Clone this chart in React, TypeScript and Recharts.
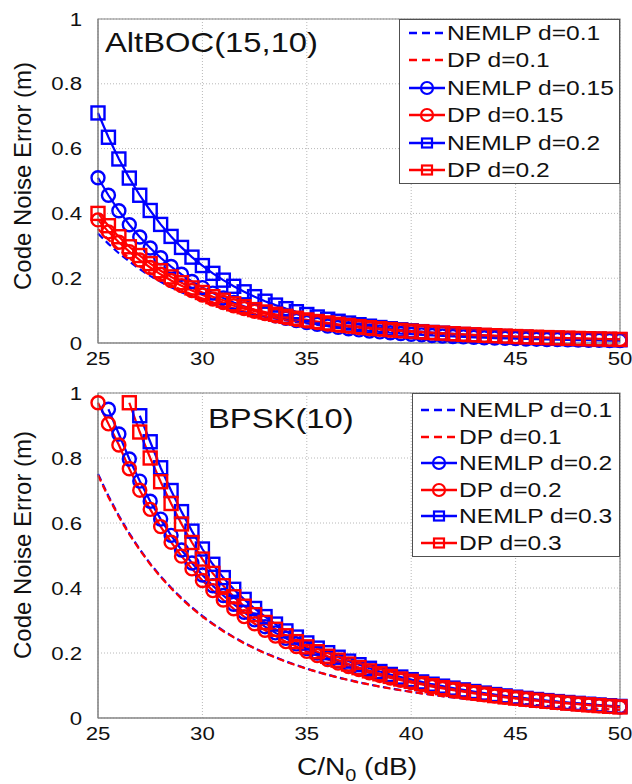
import React from "react";
import { LineChart, Line, XAxis, YAxis, CartesianGrid, ReferenceArea, Legend } from "recharts";

// C/N0 sweep, one marker every 0.5 dB
const cn0Db = [
  25, 25.5, 26, 26.5, 27, 27.5, 28, 28.5, 29, 29.5,
  30, 30.5, 31, 31.5, 32, 32.5, 33, 33.5, 34, 34.5,
  35, 35.5, 36, 36.5, 37, 37.5, 38, 38.5, 39, 39.5,
  40, 40.5, 41, 41.5, 42, 42.5, 43, 43.5, 44, 44.5,
  45, 45.5, 46, 46.5, 47, 47.5, 48, 48.5, 49, 49.5,
  50,
];

const xTicks = [25, 30, 35, 40, 45, 50];
const yTicks = [0, 0.2, 0.4, 0.6, 0.8, 1];

// AltBOC(15,10) panel
const altNemlp01 = [
  0.338, 0.306, 0.277, 0.252, 0.228, 0.207, 0.189, 0.172, 0.157, 0.144,
  0.132, 0.121, 0.111, 0.103, 0.0947, 0.0874, 0.0808, 0.0750, 0.0695, 0.0646,
  0.0602, 0.0560, 0.0523, 0.0489, 0.0456, 0.0426, 0.0399, 0.0374, 0.0351, 0.0329,
  0.0309, 0.0291, 0.0273, 0.0257, 0.0242, 0.0228, 0.0214, 0.0201, 0.0190, 0.0180,
  0.0168, 0.0158, 0.0150, 0.0141, 0.0132, 0.0125, 0.0118, 0.0111, 0.0106, 0.0100,
  0.0094,
];
const altDp01 = [
  0.352, 0.319, 0.289, 0.262, 0.237, 0.216, 0.197, 0.179, 0.164, 0.150,
  0.137, 0.126, 0.116, 0.107, 0.0986, 0.0910, 0.0842, 0.0781, 0.0724, 0.0673,
  0.0627, 0.0583, 0.0545, 0.0509, 0.0475, 0.0444, 0.0416, 0.0390, 0.0366, 0.0343,
  0.0322, 0.0303, 0.0284, 0.0268, 0.0252, 0.0237, 0.0223, 0.0209, 0.0198, 0.0187,
  0.0175, 0.0165, 0.0156, 0.0147, 0.0138, 0.0130, 0.0123, 0.0116, 0.0110, 0.0104,
  0.0098,
];
const altNemlp015 = [
  0.510, 0.456, 0.408, 0.365, 0.327, 0.293, 0.263, 0.236, 0.212, 0.190,
  0.171, 0.154, 0.139, 0.125, 0.113, 0.102, 0.0926, 0.0840, 0.0763, 0.0693,
  0.0631, 0.0576, 0.0526, 0.0481, 0.0441, 0.0405, 0.0372, 0.0343, 0.0317, 0.0292,
  0.0271, 0.0251, 0.0233, 0.0216, 0.0201, 0.0188, 0.0175, 0.0163, 0.0153, 0.0143,
  0.0134, 0.0125, 0.0118, 0.0110, 0.0104, 0.0097, 0.0091, 0.0086, 0.0081, 0.0076,
  0.0072,
];
const altDp015 = [
  0.380, 0.343, 0.311, 0.282, 0.256, 0.233, 0.212, 0.193, 0.177, 0.162,
  0.148, 0.136, 0.125, 0.115, 0.106, 0.0981, 0.0908, 0.0841, 0.0781, 0.0726,
  0.0675, 0.0629, 0.0587, 0.0548, 0.0512, 0.0479, 0.0449, 0.0420, 0.0395, 0.0370,
  0.0347, 0.0326, 0.0306, 0.0288, 0.0271, 0.0255, 0.0240, 0.0226, 0.0213, 0.0201,
  0.0189, 0.0178, 0.0168, 0.0158, 0.0149, 0.0140, 0.0133, 0.0125, 0.0119, 0.0112,
  0.0105,
];
const altNemlp02 = [
  0.710, 0.635, 0.568, 0.509, 0.456, 0.409, 0.366, 0.329, 0.295, 0.265,
  0.239, 0.215, 0.194, 0.175, 0.158, 0.143, 0.129, 0.117, 0.106, 0.0966,
  0.0880, 0.0803, 0.0733, 0.0671, 0.0615, 0.0565, 0.0519, 0.0478, 0.0441, 0.0408,
  0.0377, 0.0350, 0.0324, 0.0302, 0.0281, 0.0261, 0.0244, 0.0228, 0.0213, 0.0199,
  0.0186, 0.0175, 0.0164, 0.0154, 0.0144, 0.0136, 0.0127, 0.0120, 0.0113, 0.0106,
  0.0100,
];
const altDp02 = [
  0.400, 0.362, 0.328, 0.297, 0.270, 0.245, 0.223, 0.204, 0.186, 0.170,
  0.156, 0.143, 0.132, 0.121, 0.112, 0.103, 0.0957, 0.0887, 0.0823, 0.0765,
  0.0712, 0.0663, 0.0619, 0.0578, 0.0540, 0.0505, 0.0473, 0.0443, 0.0416, 0.0390,
  0.0366, 0.0344, 0.0323, 0.0304, 0.0286, 0.0269, 0.0253, 0.0238, 0.0225, 0.0212,
  0.0199, 0.0188, 0.0177, 0.0167, 0.0157, 0.0148, 0.0140, 0.0132, 0.0125, 0.0118,
  0.0111,
];

// BPSK(10) panel (null = above the 1 m top of the axes)
const bpskNemlp01 = [
  0.751, 0.683, 0.622, 0.568, 0.519, 0.475, 0.436, 0.401, 0.369, 0.340,
  0.314, 0.290, 0.269, 0.249, 0.231, 0.215, 0.200, 0.187, 0.174, 0.163,
  0.152, 0.142, 0.133, 0.125, 0.117, 0.110, 0.103, 0.0970, 0.0912, 0.0858,
  0.0807, 0.0760, 0.0715, 0.0674, 0.0634, 0.0598, 0.0563, 0.0531, 0.0501, 0.0472,
  0.0445, 0.0420, 0.0396, 0.0373, 0.0352, 0.0332, 0.0314, 0.0296, 0.0279, 0.0264,
  0.0249,
];
const bpskDp01 = [
  0.747, 0.679, 0.619, 0.565, 0.517, 0.473, 0.434, 0.399, 0.367, 0.338,
  0.312, 0.289, 0.267, 0.248, 0.230, 0.214, 0.199, 0.186, 0.173, 0.162,
  0.151, 0.142, 0.133, 0.124, 0.117, 0.109, 0.103, 0.0965, 0.0907, 0.0854,
  0.0803, 0.0756, 0.0711, 0.0671, 0.0631, 0.0595, 0.0560, 0.0528, 0.0498, 0.0470,
  0.0443, 0.0418, 0.0394, 0.0371, 0.0350, 0.0330, 0.0312, 0.0295, 0.0278, 0.0263,
  0.0248,
];
const bpskNemlp02 = [
  null, 0.950, 0.874, 0.797, 0.729, 0.667, 0.612, 0.562, 0.517, 0.477,
  0.440, 0.407, 0.377, 0.350, 0.325, 0.302, 0.281, 0.262, 0.245, 0.228,
  0.214, 0.200, 0.187, 0.175, 0.165, 0.154, 0.145, 0.136, 0.128, 0.120,
  0.113, 0.107, 0.101, 0.0945, 0.0891, 0.0839, 0.0790, 0.0746, 0.0703, 0.0662,
  0.0625, 0.0590, 0.0555, 0.0524, 0.0495, 0.0467, 0.0440, 0.0415, 0.0392, 0.0370,
  0.0349,
];
const bpskDp02 = [
  0.970, 0.905, 0.840, 0.767, 0.701, 0.642, 0.589, 0.541, 0.498, 0.459,
  0.423, 0.392, 0.363, 0.336, 0.312, 0.290, 0.270, 0.252, 0.235, 0.220,
  0.205, 0.192, 0.180, 0.169, 0.158, 0.149, 0.139, 0.131, 0.123, 0.116,
  0.109, 0.103, 0.0966, 0.0909, 0.0857, 0.0807, 0.0760, 0.0717, 0.0676, 0.0637,
  0.0601, 0.0567, 0.0534, 0.0504, 0.0476, 0.0449, 0.0423, 0.0399, 0.0377, 0.0356,
  0.0336,
];
const bpskNemlp03 = [
  null, null, null, null, 0.930, 0.850, 0.770, 0.700, 0.635, 0.575,
  0.520, 0.473, 0.432, 0.396, 0.365, 0.337, 0.312, 0.289, 0.268, 0.249,
  0.231, 0.215, 0.201, 0.187, 0.175, 0.164, 0.153, 0.143, 0.134, 0.126,
  0.118, 0.111, 0.104, 0.098, 0.092, 0.0865, 0.0815, 0.0767, 0.0722, 0.0680,
  0.0641, 0.0604, 0.0569, 0.0536, 0.0505, 0.0477, 0.0450, 0.0424, 0.0400, 0.0377,
  0.0356,
];
const bpskDp03 = [
  null, null, null, 0.970, 0.880, 0.800, 0.727, 0.660, 0.597, 0.540,
  0.489, 0.445, 0.407, 0.373, 0.344, 0.318, 0.294, 0.273, 0.253, 0.235,
  0.219, 0.204, 0.190, 0.178, 0.166, 0.155, 0.145, 0.136, 0.128, 0.120,
  0.113, 0.106, 0.0994, 0.0934, 0.0879, 0.0827, 0.0778, 0.0733, 0.0690, 0.0650,
  0.0613, 0.0578, 0.0544, 0.0513, 0.0484, 0.0457, 0.0431, 0.0406, 0.0383, 0.0361,
  0.0341,
];

const BLUE = "#0000ff";
const RED = "#ff0000";
const FONT = '"Liberation Sans", Arial, Helvetica, sans-serif';
const STRETCH = 1.17;

type Marker = "none" | "circle" | "square";
interface SeriesDef {
  key: string;
  name: string;
  color: string;
  marker: Marker;
  values: (number | null)[];
}

const altSeries: SeriesDef[] = [
  { key: "nemlp01", name: "NEMLP d=0.1", color: BLUE, marker: "none", values: altNemlp01 },
  { key: "dp01", name: "DP d=0.1", color: RED, marker: "none", values: altDp01 },
  { key: "nemlp015", name: "NEMLP d=0.15", color: BLUE, marker: "circle", values: altNemlp015 },
  { key: "dp015", name: "DP d=0.15", color: RED, marker: "circle", values: altDp015 },
  { key: "nemlp02", name: "NEMLP d=0.2", color: BLUE, marker: "square", values: altNemlp02 },
  { key: "dp02", name: "DP d=0.2", color: RED, marker: "square", values: altDp02 },
];

const bpskSeries: SeriesDef[] = [
  { key: "nemlp01", name: "NEMLP d=0.1", color: BLUE, marker: "none", values: bpskNemlp01 },
  { key: "dp01", name: "DP d=0.1", color: RED, marker: "none", values: bpskDp01 },
  { key: "nemlp02", name: "NEMLP d=0.2", color: BLUE, marker: "circle", values: bpskNemlp02 },
  { key: "dp02", name: "DP d=0.2", color: RED, marker: "circle", values: bpskDp02 },
  { key: "nemlp03", name: "NEMLP d=0.3", color: BLUE, marker: "square", values: bpskNemlp03 },
  { key: "dp03", name: "DP d=0.3", color: RED, marker: "square", values: bpskDp03 },
];

function buildRows(series: SeriesDef[]) {
  return cn0Db.map((x, i) => {
    const row: Record<string, number | null> = { cn0: x };
    series.forEach((s) => {
      row[s.key] = s.values[i];
    });
    return row;
  });
}

function XTick({ x, y, payload, dy }: any) {
  return (
    <g transform={`translate(${x},${y + dy}) scale(${STRETCH},1)`}>
      <text textAnchor="middle" dy="0.35em" fontSize={19} fill="#111">
        {payload.value}
      </text>
    </g>
  );
}

function YTick({ x, y, payload }: any) {
  return (
    <g transform={`translate(${x - 16},${y}) scale(${STRETCH},1)`}>
      <text textAnchor="end" dy="0.35em" fontSize={19} fill="#111">
        {payload.value}
      </text>
    </g>
  );
}

function SquareDot({ cx, cy, stroke }: any) {
  if (cx == null || cy == null || Number.isNaN(cx) || Number.isNaN(cy)) return <g />;
  return <rect x={cx - 6.5} y={cy - 6.5} width={13} height={13} fill="none" stroke={stroke} strokeWidth={2.4} />;
}

function LegendBox({ series, rowTop, rowStep, sampleLeft, textLeft }: any) {
  return (
    <div
      style={{
        position: "relative",
        width: "100%",
        height: "100%",
        boxSizing: "border-box",
        border: "1px solid #505050",
        background: "#fff",
        fontFamily: FONT,
      }}
    >
      {series.map((s: SeriesDef, i: number) => {
        const cy = rowTop + i * rowStep;
        return (
          <React.Fragment key={s.key}>
            <svg style={{ position: "absolute", left: sampleLeft, top: cy - 8 }} width={38} height={16}>
              <line
                x1={1}
                y1={8}
                x2={37}
                y2={8}
                stroke={s.color}
                strokeWidth={2.4}
                strokeDasharray={s.marker === "none" ? "8 5" : undefined}
              />
              {s.marker === "circle" && <circle cx={19} cy={8} r={6} fill="none" stroke={s.color} strokeWidth={2.2} />}
              {s.marker === "square" && (
                <rect x={14} y={3.5} width={10} height={9} fill="none" stroke={s.color} strokeWidth={2.2} />
              )}
            </svg>
            <span
              style={{
                position: "absolute",
                left: textLeft,
                top: cy - 12,
                height: 24,
                lineHeight: "24px",
                fontSize: 21,
                color: "#111",
                whiteSpace: "nowrap",
                transform: `scaleX(${STRETCH})`,
                transformOrigin: "left center",
              }}
            >
              {s.name}
            </span>
          </React.Fragment>
        );
      })}
    </div>
  );
}

interface PanelProps {
  series: SeriesDef[];
  height: number;
  marginTop: number;
  xAxisHeight: number;
  tickGap: number;
  legendBox: { left: number; top: number; width: number; height: number };
  legendRows: { rowTop: number; rowStep: number; sampleLeft: number; textLeft: number };
}

function NoisePanel({ series, height, marginTop, xAxisHeight, tickGap, legendBox, legendRows }: PanelProps) {
  const rows = buildRows(series);
  return (
    <LineChart width={632} height={height} data={rows} margin={{ top: marginTop, right: 12, left: 0, bottom: 0 }}>
      <CartesianGrid stroke="#b8b8b8" strokeDasharray="1 2" />
      <ReferenceArea x1={25} x2={50} y1={0} y2={1} fill="none" stroke="#858585" strokeWidth={1.2} ifOverflow="visible" />
      <XAxis
        dataKey="cn0"
        type="number"
        domain={[25, 50]}
        ticks={xTicks}
        height={xAxisHeight}
        tickSize={0}
        tickMargin={0}
        axisLine={{ stroke: "#858585" }}
        tickLine={false}
        tick={<XTick dy={tickGap} />}
      />
      <YAxis
        type="number"
        domain={[0, 1]}
        ticks={yTicks}
        width={98}
        tickSize={0}
        tickMargin={0}
        axisLine={{ stroke: "#858585" }}
        tickLine={false}
        tick={<YTick />}
      />
      {series.map((s) => (
        <Line
          key={s.key}
          dataKey={s.key}
          name={s.name}
          type="linear"
          stroke={s.color}
          strokeWidth={2.2}
          strokeDasharray={s.marker === "none" ? "7 4" : undefined}
          dot={
            s.marker === "circle"
              ? { r: 6.5, fill: "none", stroke: s.color, strokeWidth: 2.4 }
              : s.marker === "square"
              ? (p: any) => <SquareDot key={`sq-${s.key}-${p.index}`} cx={p.cx} cy={p.cy} stroke={s.color} />
              : false
          }
          activeDot={false}
          isAnimationActive={false}
        />
      ))}
      <Legend
        layout="horizontal"
        verticalAlign="middle"
        align="center"
        wrapperStyle={{ left: legendBox.left, top: legendBox.top, width: legendBox.width, height: legendBox.height }}
        content={() => <LegendBox series={series} {...legendRows} />}
      />
    </LineChart>
  );
}

export default function App() {
  return (
    <div
      style={{
        position: "absolute",
        left: 0,
        top: 0,
        width: 632,
        height: 784,
        background: "#fff",
        fontFamily: FONT,
        overflow: "hidden",
      }}
    >
      <div style={{ position: "absolute", left: 0, top: 0 }}>
        <NoisePanel
          series={altSeries}
          height={370}
          marginTop={19}
          xAxisHeight={27}
          tickGap={15}
          legendBox={{ left: 399, top: 19, width: 221, height: 165 }}
          legendRows={{ rowTop: 13, rowStep: 27.4, sampleLeft: 8, textLeft: 47 }}
        />
      </div>
      <div style={{ position: "absolute", left: 0, top: 370 }}>
        <NoisePanel
          series={bpskSeries}
          height={414}
          marginTop={23}
          xAxisHeight={66}
          tickGap={15}
          legendBox={{ left: 412, top: 23, width: 208, height: 164 }}
          legendRows={{ rowTop: 16, rowStep: 26.6, sampleLeft: 7, textLeft: 46 }}
        />
      </div>
      <svg
        width={632}
        height={784}
        style={{ position: "absolute", left: 0, top: 0, pointerEvents: "none", fontFamily: FONT }}
      >
        <g transform={`translate(105,52) scale(${STRETCH},1)`}>
          <text fontSize={28} fill="#111">AltBOC(15,10)</text>
        </g>
        <g transform={`translate(208,428) scale(${STRETCH},1)`}>
          <text fontSize={28} fill="#111">BPSK(10)</text>
        </g>
        <text transform="translate(23,176) rotate(-90)" textAnchor="middle" dy="0.35em" fontSize={24} fill="#111">
          Code Noise Error (m)
        </text>
        <text transform="translate(23,545) rotate(-90)" textAnchor="middle" dy="0.35em" fontSize={24} fill="#111">
          Code Noise Error (m)
        </text>
        <g transform={`translate(357,775) scale(${STRETCH},1)`}>
          <text textAnchor="middle" fontSize={24} fill="#111">
            C/N
            <tspan fontSize={17} dy={6}>0</tspan>
            <tspan dy={-6}> (dB)</tspan>
          </text>
        </g>
      </svg>
    </div>
  );
}
